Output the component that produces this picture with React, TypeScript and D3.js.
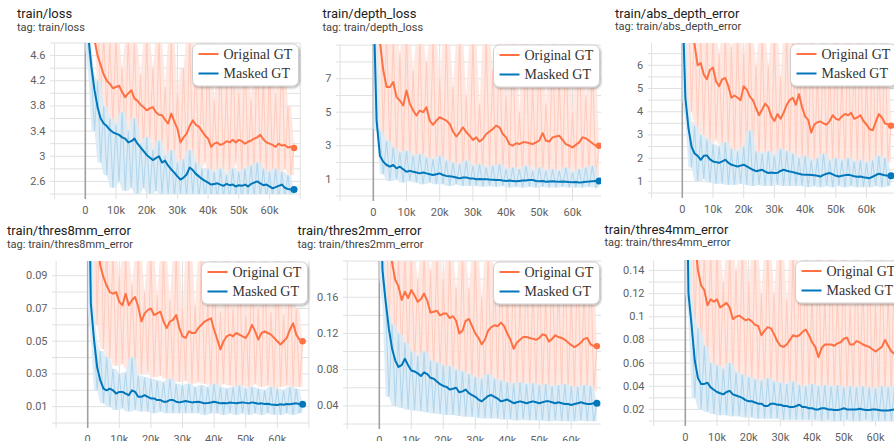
import React from 'react';
import * as d3 from 'd3';

// steps: 0 .. 68k every 1k
const steps = d3.range(0, 69).map((i) => i * 1000);
const xTickValues = [0, 10000, 20000, 30000, 40000, 50000, 60000];
const xTickLabels = ['0', '10k', '20k', '30k', '40k', '50k', '60k'];
const seriesNames = ['Original GT', 'Masked GT'];

// ---------- train/loss ----------
const lossOrigSmooth = [6.2,5.7,5.2,4.85,4.6,4.45,4.3,4.2,4.15,4.08,
4.1,4.12,4.02,3.94,4.0,4.05,3.92,3.88,3.82,3.78,
3.73,3.76,3.78,3.7,3.66,3.65,3.58,3.52,3.68,3.55,
3.44,3.22,3.3,3.36,3.48,3.57,3.5,3.47,3.4,3.33,
3.28,3.15,3.2,3.22,3.18,3.2,3.24,3.22,3.26,3.22,
3.26,3.24,3.2,3.23,3.25,3.28,3.3,3.34,3.27,3.22,
3.2,3.18,3.15,3.2,3.17,3.18,3.14,3.15,3.13];
const lossMaskSmooth = [6.0,4.9,4.42,4.05,3.78,3.6,3.52,3.48,3.42,3.38,
3.36,3.34,3.3,3.28,3.22,3.24,3.28,3.2,3.14,3.08,
3.02,2.98,2.94,2.97,3.0,2.9,2.93,2.85,2.79,2.74,
2.68,2.63,2.66,2.71,2.82,2.78,2.72,2.68,2.64,2.61,
2.58,2.55,2.56,2.57,2.55,2.53,2.56,2.54,2.55,2.52,
2.54,2.53,2.55,2.52,2.56,2.58,2.6,2.57,2.54,2.55,
2.52,2.49,2.51,2.53,2.55,2.5,2.48,2.47,2.47];
const lossOrigRaw = [6.6,5.4,6.1,4.9,5.3,3.9,4.9,3.7,4.8,3.5,
4.9,3.6,4.4,3.3,4.9,3.5,4.8,3.2,4.3,3.1,
4.9,3.3,4.4,3.0,4.9,3.2,4.1,2.9,4.9,3.0,
4.0,2.8,4.4,2.9,4.9,3.0,4.6,2.8,4.2,2.9,
4.9,2.7,3.9,2.8,4.6,2.8,4.1,2.7,4.9,2.9,
4.0,2.7,4.7,2.8,3.9,2.7,4.9,2.8,4.2,2.7,
4.5,2.8,4.0,2.7,4.8,2.8,3.8,2.7,3.2];
const lossMaskRaw = [6.0,4.7,4.3,3.4,4.2,2.9,3.8,2.7,3.6,2.5,
3.5,2.6,3.7,2.45,3.4,2.5,3.6,2.4,3.2,2.5,
3.3,2.4,3.1,2.45,3.25,2.4,3.0,2.4,3.1,2.35,
2.9,2.4,2.95,2.35,3.1,2.4,2.9,2.35,2.8,2.3,
2.8,2.35,2.75,2.3,2.8,2.35,2.7,2.3,2.8,2.35,
2.75,2.3,2.8,2.35,2.85,2.35,2.9,2.35,2.8,2.3,
2.75,2.35,2.8,2.3,2.75,2.35,2.7,2.3,2.45];
const lossYLabels = [2.6, 3, 3.4, 3.8, 4.2, 4.6];

// ---------- train/depth_loss ----------
const depthOrigSmooth = [13,11,9.2,7.5,6.5,6.5,6.8,5.9,5.7,5.4,
6.3,5.5,5.1,4.8,5.1,5.0,5.3,4.5,4.25,4.5,
4.7,4.6,4.5,4.3,3.85,3.55,3.8,4.1,3.8,3.6,
3.35,3.5,3.25,3.4,3.7,3.85,4.0,4.2,4.1,3.7,
3.5,3.1,3.0,3.15,3.1,3.2,3.2,3.15,3.1,3.2,
3.3,3.75,3.3,3.25,3.5,3.55,3.6,3.35,3.1,3.0,
2.9,3.05,3.2,3.5,3.45,3.3,3.15,3.0,3.0];
const depthMaskSmooth = [12,4.5,2.4,2.05,1.85,1.75,1.85,1.65,1.75,1.6,
1.45,1.5,1.45,1.4,1.35,1.4,1.35,1.3,1.25,1.3,
1.35,1.25,1.2,1.18,1.15,1.1,1.05,1.1,1.1,1.05,
1.05,1.0,1.02,1.0,1.0,0.98,0.97,0.95,0.95,0.92,
0.9,0.92,0.9,0.88,0.9,0.92,0.93,0.95,0.95,0.9,
0.88,0.9,0.85,0.87,0.88,0.86,0.85,0.87,0.85,0.83,
0.82,0.83,0.8,0.82,0.85,0.86,0.88,0.9,0.9];
const depthOrigRaw = [14,9.5,12,3.5,10,2.5,9.5,2.2,8.5,2.0,
10,2.2,7.5,1.8,9.5,2.0,8.0,1.7,9.5,1.8,
7.0,1.6,9.5,1.5,6.5,1.6,9.5,1.4,6.0,1.5,
9.5,1.4,5.5,1.3,9.5,1.5,7.5,1.4,9.5,1.3,
6.0,1.2,9.5,1.4,5.0,1.3,9.5,1.2,6.5,1.3,
9.5,1.2,5.5,1.4,9.5,1.2,7.0,1.3,9.5,1.2,
5.0,1.3,9.5,1.2,6.0,1.3,8.0,1.2,3.0];
const depthMaskRaw = [12,4.0,3.8,1.3,3.3,0.9,2.9,1.0,2.6,0.8,
2.7,0.9,2.4,0.8,2.5,0.7,2.3,0.8,2.2,0.7,
2.4,0.7,2.1,0.6,2.0,0.7,1.9,0.6,2.1,0.6,
1.8,0.6,1.9,0.55,1.7,0.6,1.8,0.55,1.9,0.6,
1.6,0.5,1.7,0.55,1.6,0.5,1.8,0.55,1.5,0.5,
1.7,0.55,1.5,0.5,1.6,0.5,1.5,0.55,1.7,0.5,
1.4,0.5,1.6,0.5,1.7,0.55,1.8,0.5,0.9];
const depthYLabels = [1, 3, 5, 7];

// ---------- train/abs_depth_error ----------
const absOrigSmooth = [12,10,8.5,7.5,6.9,6.0,6.1,5.6,5.4,5.8,
5.9,5.3,5.1,5.4,5.45,5.1,4.6,4.7,4.6,4.5,
5.1,4.95,4.65,4.5,4.15,3.85,4.1,4.35,4.2,3.8,
3.6,3.9,3.7,3.95,4.3,4.5,4.6,4.3,4.75,4.2,
3.8,3.65,3.1,3.45,3.55,3.58,3.5,3.44,3.6,3.85,
3.7,3.65,3.8,3.9,3.85,3.95,3.7,3.75,3.85,3.6,
3.45,3.25,3.2,3.55,3.9,3.75,3.5,3.45,3.4];
const absMaskSmooth = [9,4.6,3.3,2.5,2.2,2.1,1.93,2.1,2.12,1.95,
1.86,1.83,1.8,1.86,1.93,1.8,1.72,1.68,1.64,1.68,
1.72,1.65,1.57,1.5,1.44,1.47,1.5,1.42,1.36,1.38,
1.36,1.37,1.45,1.5,1.46,1.43,1.4,1.36,1.33,1.3,
1.29,1.29,1.28,1.26,1.24,1.21,1.28,1.33,1.36,1.3,
1.24,1.21,1.24,1.27,1.29,1.26,1.22,1.2,1.21,1.18,
1.16,1.14,1.2,1.27,1.33,1.3,1.26,1.24,1.24];
const absOrigRaw = [12,10,9,4.0,8,3.2,7.5,3.0,7.5,2.6,
7.5,2.8,6.5,2.5,7.5,2.4,6.8,2.3,7.5,2.4,
6.5,2.2,7.5,2.1,6.0,2.0,7.5,2.2,6.0,1.9,
7.5,2.0,5.5,1.9,7.5,2.1,7.5,2.0,7.5,1.9,
6.0,1.8,7.5,1.9,5.5,1.8,7.5,1.9,6.0,1.8,
7.5,1.9,5.5,1.8,7.5,1.9,6.5,1.8,7.5,1.7,
5.5,1.8,7.5,1.9,6.5,1.8,7.5,1.8,3.4];
const absMaskRaw = [9,4.5,3.6,1.6,3.4,1.0,3.0,1.1,2.8,0.95,
2.6,0.9,2.5,0.9,2.7,0.85,2.4,0.85,2.3,0.9,
2.5,0.85,3.2,0.8,2.3,0.85,2.2,0.8,2.3,0.8,
2.1,0.85,2.4,0.8,2.3,0.8,2.2,0.8,2.0,0.8,
2.1,0.75,1.9,0.8,2.0,0.75,2.2,0.8,1.9,0.75,
2.0,0.8,1.9,0.75,2.0,0.8,1.85,0.75,1.9,0.75,
1.8,0.75,1.9,0.8,2.1,0.75,2.0,0.8,1.24];
const absYLabels = [1, 2, 3, 4, 5, 6];

// ---------- train/thres8mm_error ----------
const t8OrigSmooth = [0.2,0.16,0.13,0.11,0.096,0.089,0.084,0.08,0.079,0.08,
0.074,0.072,0.079,0.072,0.075,0.077,0.071,0.062,0.067,0.069,
0.07,0.066,0.067,0.068,0.062,0.058,0.062,0.063,0.066,0.058,
0.053,0.052,0.056,0.055,0.055,0.058,0.06,0.062,0.063,0.064,
0.057,0.051,0.045,0.05,0.053,0.054,0.053,0.055,0.054,0.053,
0.052,0.055,0.06,0.056,0.051,0.055,0.056,0.055,0.054,0.052,
0.05,0.048,0.05,0.052,0.057,0.061,0.054,0.051,0.05];
const t8MaskSmooth = [0.2,0.073,0.051,0.034,0.026,0.021,0.02,0.021,0.02,0.018,
0.019,0.019,0.018,0.017,0.02,0.019,0.016,0.016,0.017,0.016,
0.015,0.015,0.014,0.014,0.013,0.013,0.014,0.014,0.013,0.0126,
0.013,0.0134,0.013,0.0126,0.0128,0.013,0.0125,0.012,0.0122,0.0125,
0.013,0.0125,0.012,0.0122,0.012,0.0125,0.0123,0.0121,0.0124,0.0126,
0.0123,0.012,0.0126,0.0122,0.0118,0.012,0.0116,0.0118,0.0113,0.0112,
0.011,0.0114,0.0112,0.0116,0.0114,0.0118,0.012,0.0116,0.0115];
const t8OrigRaw = [0.25,0.2,0.17,0.06,0.15,0.045,0.11,0.04,0.105,0.035,
0.09,0.036,0.105,0.033,0.085,0.032,0.105,0.03,0.08,0.031,
0.105,0.028,0.078,0.029,0.105,0.027,0.075,0.026,0.105,0.025,
0.07,0.026,0.105,0.024,0.072,0.025,0.105,0.024,0.075,0.023,
0.105,0.022,0.068,0.024,0.105,0.023,0.07,0.022,0.105,0.023,
0.066,0.022,0.105,0.024,0.07,0.022,0.105,0.023,0.068,0.021,
0.105,0.022,0.066,0.023,0.105,0.022,0.07,0.022,0.05];
const t8MaskRaw = [0.2,0.07,0.05,0.02,0.044,0.012,0.04,0.01,0.033,0.008,
0.03,0.009,0.031,0.007,0.04,0.008,0.029,0.007,0.028,0.007,
0.027,0.006,0.026,0.007,0.025,0.006,0.027,0.006,0.024,0.006,
0.023,0.006,0.024,0.006,0.022,0.006,0.023,0.005,0.022,0.006,
0.024,0.006,0.022,0.005,0.021,0.006,0.022,0.005,0.023,0.006,
0.021,0.005,0.022,0.006,0.021,0.005,0.02,0.006,0.022,0.005,
0.021,0.005,0.02,0.006,0.022,0.005,0.021,0.006,0.0115];
const t8YLabels = [0.01, 0.03, 0.05, 0.07, 0.09];

// ---------- train/thres2mm_error ----------
const t2OrigSmooth = [0.35,0.3,0.26,0.23,0.198,0.179,0.172,0.157,0.166,0.159,
0.168,0.162,0.155,0.158,0.164,0.156,0.143,0.144,0.145,0.14,
0.142,0.142,0.137,0.139,0.134,0.12,0.123,0.134,0.136,0.128,
0.12,0.115,0.108,0.113,0.123,0.127,0.129,0.128,0.132,0.128,
0.12,0.113,0.103,0.11,0.113,0.116,0.116,0.115,0.114,0.113,
0.115,0.119,0.118,0.111,0.114,0.118,0.116,0.115,0.113,0.11,
0.107,0.105,0.107,0.11,0.114,0.115,0.108,0.106,0.106];
const t2MaskSmooth = [0.35,0.19,0.155,0.125,0.103,0.09,0.083,0.085,0.092,0.085,
0.079,0.078,0.076,0.073,0.077,0.075,0.071,0.07,0.067,0.064,
0.062,0.061,0.058,0.059,0.06,0.055,0.056,0.058,0.054,0.052,
0.05,0.047,0.045,0.048,0.051,0.052,0.05,0.048,0.045,0.046,
0.047,0.045,0.043,0.044,0.045,0.044,0.043,0.044,0.045,0.044,
0.043,0.044,0.045,0.045,0.044,0.043,0.044,0.043,0.042,0.042,
0.041,0.042,0.043,0.044,0.043,0.042,0.042,0.043,0.043];
const t2OrigRaw = [0.4,0.33,0.3,0.12,0.25,0.1,0.21,0.095,0.21,0.09,
0.21,0.085,0.18,0.085,0.21,0.08,0.19,0.078,0.21,0.075,
0.18,0.072,0.21,0.07,0.17,0.068,0.21,0.066,0.17,0.065,
0.21,0.064,0.16,0.062,0.21,0.063,0.19,0.06,0.21,0.06,
0.17,0.058,0.21,0.06,0.16,0.058,0.21,0.057,0.17,0.058,
0.21,0.056,0.16,0.057,0.21,0.056,0.18,0.055,0.21,0.056,
0.16,0.055,0.21,0.057,0.17,0.055,0.21,0.056,0.106];
const t2MaskRaw = [0.35,0.18,0.15,0.05,0.13,0.04,0.12,0.038,0.11,0.036,
0.1,0.035,0.095,0.034,0.1,0.033,0.09,0.032,0.088,0.031,
0.085,0.03,0.084,0.03,0.08,0.029,0.078,0.028,0.075,0.028,
0.072,0.027,0.07,0.026,0.075,0.026,0.07,0.026,0.068,0.025,
0.066,0.025,0.065,0.024,0.066,0.025,0.064,0.024,0.065,0.024,
0.063,0.024,0.064,0.023,0.062,0.024,0.063,0.023,0.064,0.023,
0.062,0.023,0.061,0.024,0.063,0.023,0.062,0.023,0.043];
const t2YLabels = [0.04, 0.08, 0.12, 0.16];

// ---------- train/thres4mm_error ----------
const t4OrigSmooth = [0.3,0.25,0.2,0.165,0.14,0.127,0.123,0.11,0.115,0.113,
0.115,0.108,0.11,0.112,0.108,0.098,0.1,0.101,0.099,0.097,
0.098,0.096,0.093,0.092,0.084,0.088,0.091,0.09,0.085,0.079,
0.075,0.074,0.076,0.08,0.084,0.083,0.084,0.087,0.089,0.084,
0.078,0.074,0.065,0.073,0.076,0.076,0.076,0.075,0.077,0.078,
0.081,0.082,0.076,0.076,0.079,0.078,0.076,0.075,0.074,0.072,
0.07,0.072,0.074,0.08,0.075,0.07,0.068,0.072,0.071];
const t4MaskSmooth = [0.3,0.12,0.092,0.062,0.047,0.042,0.042,0.043,0.039,0.037,
0.035,0.034,0.033,0.035,0.036,0.033,0.032,0.031,0.03,0.028,
0.027,0.027,0.026,0.025,0.025,0.023,0.023,0.025,0.025,0.024,
0.024,0.023,0.023,0.022,0.022,0.023,0.024,0.022,0.022,0.021,
0.021,0.02,0.02,0.021,0.021,0.02,0.02,0.0195,0.0195,0.02,
0.021,0.02,0.02,0.02,0.02,0.0205,0.02,0.0195,0.0195,0.02,
0.02,0.0195,0.019,0.019,0.019,0.0195,0.02,0.02,0.0195];
const t4OrigRaw = [0.35,0.3,0.25,0.08,0.2,0.065,0.16,0.06,0.16,0.055,
0.16,0.052,0.13,0.05,0.16,0.048,0.14,0.046,0.16,0.045,
0.13,0.044,0.16,0.042,0.12,0.04,0.16,0.041,0.12,0.039,
0.16,0.038,0.115,0.037,0.16,0.038,0.14,0.037,0.16,0.036,
0.12,0.035,0.16,0.036,0.115,0.035,0.16,0.034,0.12,0.035,
0.16,0.034,0.11,0.035,0.16,0.034,0.13,0.033,0.16,0.034,
0.11,0.033,0.16,0.034,0.12,0.033,0.16,0.033,0.071];
const t4MaskRaw = [0.3,0.12,0.1,0.03,0.09,0.02,0.075,0.018,0.06,0.016,
0.058,0.015,0.055,0.015,0.06,0.014,0.052,0.014,0.05,0.013,
0.048,0.013,0.046,0.012,0.045,0.012,0.047,0.012,0.044,0.012,
0.043,0.011,0.042,0.011,0.044,0.011,0.041,0.011,0.04,0.011,
0.042,0.011,0.04,0.01,0.041,0.011,0.04,0.01,0.041,0.01,
0.039,0.011,0.04,0.01,0.039,0.01,0.04,0.011,0.039,0.01,
0.038,0.01,0.04,0.01,0.039,0.01,0.04,0.01,0.0195];
const t4YLabels = [0.02, 0.04, 0.06, 0.08, 0.1, 0.12, 0.14];

const ORANGE = '#ff7043';
const BLUE = '#0077bb';
const ORANGE_PALE = '#ffe4dc';
const ORANGE_RAW = '#ffcdbf';
const BLUE_PALE = '#d9ebf6';
const BLUE_RAW = '#b3d6ec';

type Cfg = {
  id: string; title: string; tag: string;
  titleX: number; titleY: number; tagY: number;
  left: number; right: number; x0: number; per10k: number;
  top: number; bottom: number; yMin: number; yMax: number; gridStep: number;
  yLabels: number[];
  origSmooth: number[]; origRaw: number[]; maskSmooth: number[]; maskRaw: number[];
};

const panels: Cfg[] = [
  { id: 'p1', title: 'train/loss', tag: 'tag: train/loss', titleX: 17, titleY: 18, tagY: 31,
    left: 54, right: 300, x0: 85.3, per10k: 30.7, top: 43, bottom: 194, yMin: 2.4, yMax: 4.8, gridStep: 0.2,
    yLabels: lossYLabels, origSmooth: lossOrigSmooth, origRaw: lossOrigRaw, maskSmooth: lossMaskSmooth, maskRaw: lossMaskRaw },
  { id: 'p2', title: 'train/depth_loss', tag: 'tag: train/depth_loss', titleX: 322.5, titleY: 18, tagY: 31,
    left: 340, right: 601, x0: 373.3, per10k: 33.2, top: 44, bottom: 196, yMin: 0, yMax: 9.07, gridStep: 1,
    yLabels: depthYLabels, origSmooth: depthOrigSmooth, origRaw: depthOrigRaw, maskSmooth: depthMaskSmooth, maskRaw: depthMaskRaw },
  { id: 'p3', title: 'train/abs_depth_error', tag: 'tag: train/abs_depth_error', titleX: 615, titleY: 17.5, tagY: 30,
    left: 651.7, right: 898, x0: 682.3, per10k: 30.7, top: 43, bottom: 193, yMin: 0.5, yMax: 6.96, gridStep: 0.5,
    yLabels: absYLabels, origSmooth: absOrigSmooth, origRaw: absOrigRaw, maskSmooth: absMaskSmooth, maskRaw: absMaskRaw },
  { id: 'p4', title: 'train/thres8mm_error', tag: 'tag: train/thres8mm_error', titleX: 7, titleY: 235, tagY: 248,
    left: 56, right: 309, x0: 87.7, per10k: 31.6, top: 261, bottom: 423, yMin: 0, yMax: 0.099, gridStep: 0.01,
    yLabels: t8YLabels, origSmooth: t8OrigSmooth, origRaw: t8OrigRaw, maskSmooth: t8MaskSmooth, maskRaw: t8MaskRaw },
  { id: 'p5', title: 'train/thres2mm_error', tag: 'tag: train/thres2mm_error', titleX: 297.5, titleY: 235, tagY: 248,
    left: 347, right: 601, x0: 379.3, per10k: 32, top: 261, bottom: 424, yMin: 0.02, yMax: 0.2, gridStep: 0.02,
    yLabels: t2YLabels, origSmooth: t2OrigSmooth, origRaw: t2OrigRaw, maskSmooth: t2MaskSmooth, maskRaw: t2MaskRaw },
  { id: 'p6', title: 'train/thres4mm_error', tag: 'tag: train/thres4mm_error', titleX: 604.5, titleY: 233.5, tagY: 246,
    left: 653, right: 903, x0: 685.3, per10k: 31.7, top: 260, bottom: 421, yMin: 0.01, yMax: 0.149, gridStep: 0.01,
    yLabels: t4YLabels, origSmooth: t4OrigSmooth, origRaw: t4OrigRaw, maskSmooth: t4MaskSmooth, maskRaw: t4MaskRaw },
];

function rawArea(data: number[], x: any, y: any) {
  // band spanning the local spread of the raw values
  const lo = data.map((_, i) => d3.min(data.slice(Math.max(0, i - 1), i + 2)) as number);
  const hi = data.map((_, i) => d3.max(data.slice(Math.max(0, i - 1), i + 2)) as number);
  return d3.area<number>().x((_, i) => x(steps[i])).y0((_, i) => y(lo[i])).y1((_, i) => y(hi[i]))(data) || '';
}

function Panel({ c }: { c: Cfg }) {
  const x = d3.scaleLinear().domain([0, 10000]).range([c.x0, c.x0 + c.per10k]);
  const y = d3.scaleLinear().domain([c.yMin, c.yMax]).range([c.bottom, c.top]);
  const line = d3.line<number>().x((_, i) => x(steps[i])).y((d) => y(d));
  const gy: number[] = [];
  const i0 = Math.ceil(c.yMin / c.gridStep - 1e-6);
  const i1 = Math.floor(c.yMax / c.gridStep + 1e-6);
  for (let i = i0; i <= i1; i++) gy.push(i * c.gridStep);
  const gx = [-10000, 0, 10000, 20000, 30000, 40000, 50000, 60000, 70000].filter((v) => x(v) <= c.right + 0.5);
  const n = steps.length - 1;
  const lgW = 106, lgH = 42;
  const lgX = c.right - lgW - 1.5, lgY = c.top + 1;
  return (
    <g>
      <defs>
        <clipPath id={`clip-${c.id}`}>
          <rect x={c.left} y={c.top} width={c.right - c.left} height={c.bottom - c.top} />
        </clipPath>
      </defs>
      <text x={c.titleX} y={c.titleY} fontFamily="Roboto, sans-serif" fontSize={13} fill="#212121">{c.title}</text>
      <text x={c.titleX} y={c.tagY} fontFamily="Roboto, sans-serif" fontSize={11} fill="#424242">{c.tag}</text>
      {gy.map((v, i) => (
        <line key={`h${i}`} x1={c.left - 4} x2={c.right} y1={y(v)} y2={y(v)} stroke="#e0e0e0" strokeWidth={1} />
      ))}
      {gx.map((v, i) => (
        <line key={`v${i}`} x1={x(v)} x2={x(v)} y1={c.top} y2={c.bottom + 5}
          stroke={v === 0 ? '#a0a0a0' : '#e0e0e0'} strokeWidth={v === 0 ? 1.6 : 1} />
      ))}
      {c.yLabels.map((v, i) => (
        <text key={`yl${i}`} x={c.left - 8.5} y={y(v)} textAnchor="end" dominantBaseline="central"
          fontFamily="Roboto, sans-serif" fontSize={11} fill="#616161">{String(v)}</text>
      ))}
      {xTickValues.map((v, i) => (
        <text key={`xl${i}`} x={x(v)} y={c.bottom + 16} textAnchor="middle" dominantBaseline="central"
          fontFamily="Roboto, sans-serif" fontSize={11} fill="#616161">{xTickLabels[i]}</text>
      ))}
      <g clipPath={`url(#clip-${c.id})`}>
        <path d={rawArea(c.origRaw, x, y)} fill={ORANGE_PALE} fillOpacity={0.85} />
        <path d={line(c.origRaw) || ''} fill="none" stroke={ORANGE_RAW} strokeWidth={1.1} />
        <path d={rawArea(c.maskRaw, x, y)} fill={BLUE_PALE} fillOpacity={0.9} />
        <path d={line(c.maskRaw) || ''} fill="none" stroke={BLUE_RAW} strokeWidth={1.1} />
        <path d={line(c.origSmooth) || ''} fill="none" stroke={ORANGE} strokeWidth={2} strokeLinejoin="round" />
        <path d={line(c.maskSmooth) || ''} fill="none" stroke={BLUE} strokeWidth={2} strokeLinejoin="round" />
        <circle cx={x(steps[n])} cy={y(c.origSmooth[n])} r={3.2} fill={ORANGE} />
        <circle cx={x(steps[n])} cy={y(c.maskSmooth[n])} r={3.5} fill={BLUE} />
      </g>
      <g>
        <rect x={lgX} y={lgY} width={lgW} height={lgH} rx={6} ry={6} fill="#fff" stroke="#cfcfcf"
          strokeWidth={1} filter="url(#lgshadow)" />
        {seriesNames.map((s, i) => (
          <g key={s}>
            <line x1={lgX + 6} x2={lgX + 26} y1={lgY + 10 + i * 19.5} y2={lgY + 10 + i * 19.5}
              stroke={i === 0 ? ORANGE : BLUE} strokeWidth={2} />
            <text x={lgX + 31} y={lgY + 10 + i * 19.5} dominantBaseline="central"
              fontFamily="'Liberation Serif', 'Times New Roman', serif" fontSize={14} fill="#333">{s}</text>
          </g>
        ))}
      </g>
    </g>
  );
}

export default function App() {
  return (
    <svg width={894} height={441} style={{ position: 'absolute', left: 0, top: 0, background: '#fff' }}>
      <defs>
        <filter id="lgshadow" x="-10%" y="-20%" width="130%" height="160%">
          <feDropShadow dx="1" dy="1.5" stdDeviation="1.2" floodColor="#000" floodOpacity="0.3" />
        </filter>
      </defs>
      <rect x={0} y={0} width={894} height={441} fill="#fff" />
      {panels.map((p) => <Panel key={p.id} c={p} />)}
    </svg>
  );
}
